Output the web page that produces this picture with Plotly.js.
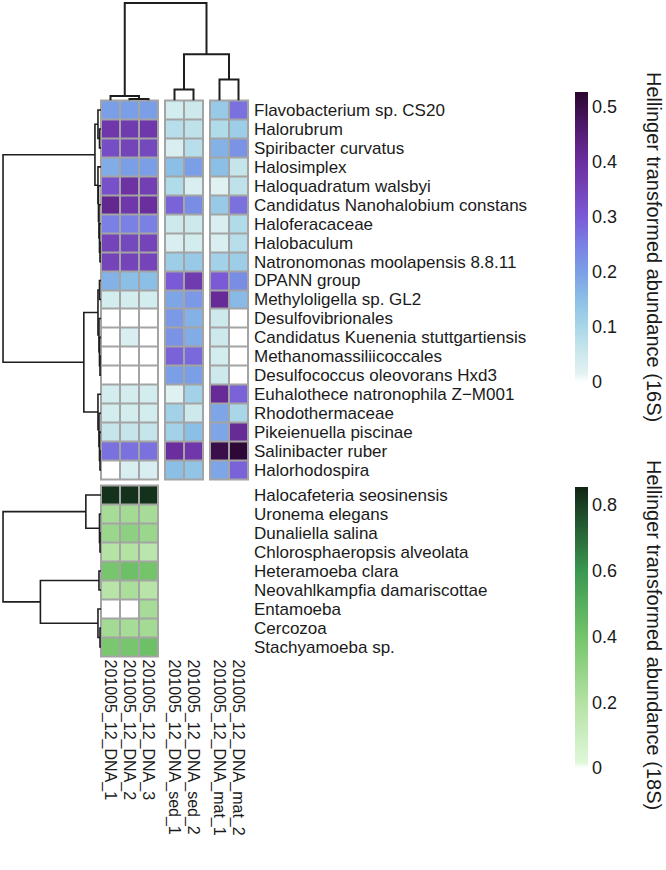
<!DOCTYPE html>
<html><head><meta charset="utf-8">
<script src="https://cdn.plot.ly/plotly-3.0.1.min.js"></script>
<style>html,body{margin:0;padding:0;background:#fff}#chart{width:666px;height:870px}</style>
</head><body><div id="chart"></div>
<script>
const W = 666, H = 870;

// ---------- DATA ----------
const colsDNA = ["201005_12_DNA_1", "201005_12_DNA_2", "201005_12_DNA_3"];
const colsSed = ["201005_12_DNA_sed_1", "201005_12_DNA_sed_2"];
const colsMat = ["201005_12_DNA_mat_1", "201005_12_DNA_mat_2"];

const taxa16S = ["Flavobacterium sp. CS20", "Halorubrum", "Spiribacter curvatus", "Halosimplex",
  "Haloquadratum walsbyi", "Candidatus Nanohalobium constans", "Haloferacaceae", "Halobaculum",
  "Natronomonas moolapensis 8.8.11", "DPANN group", "Methyloligella sp. GL2", "Desulfovibrionales",
  "Candidatus Kuenenia stuttgartiensis", "Methanomassiliicoccales", "Desulfococcus oleovorans Hxd3",
  "Euhalothece natronophila Z\u2212M001", "Rhodothermaceae", "Pikeienuella piscinae", "Salinibacter ruber",
  "Halorhodospira"];

const dna16S = [[0.20,0.20,0.20],[0.38,0.37,0.38],[0.33,0.35,0.34],[0.18,0.20,0.20],[0.32,0.39,0.36],
  [0.42,0.38,0.40],[0.25,0.25,0.25],[0.35,0.34,0.35],[0.35,0.35,0.35],[0.17,0.15,0.15],
  [0.04,0.04,0.04],[0,0,0],[0,0.03,0],[0,0,0],[0,0,0],
  [0.04,0.04,0.04],[0.04,0.04,0.04],[0.06,0.06,0.06],[0.27,0.27,0.27],[0,0.03,0.03]];
const sed16S = [[0.04,0.05],[0.08,0.07],[0.03,0.08],[0.15,0.20],[0.09,0.03],
  [0.29,0.23],[0.05,0.05],[0.03,0.04],[0.12,0.13],[0.30,0.37],
  [0.19,0.21],[0.21,0.17],[0.22,0.18],[0.29,0.28],[0.20,0.20],
  [0.02,0.11],[0.11,0.05],[0.11,0.15],[0.40,0.38],[0.15,0.14]];
const mat16S = [[0.13,0.27],[0.09,0.12],[0.17,0.22],[0.15,0.06],[0.02,0.07],
  [0.13,0.27],[0.03,0.09],[0.03,0.08],[0.11,0.12],[0.30,0.23],
  [0.41,0.16],[0.05,0],[0.05,0],[0.04,0],[0.05,0],
  [0.41,0.29],[0.19,0.10],[0.19,0.41],[0.50,0.52],[0.19,0.29]];

const taxa18S = ["Halocafeteria seosinensis", "Uronema elegans", "Dunaliella salina",
  "Chlorosphaeropsis alveolata", "Heteramoeba clara", "Neovahlkampfia damariscottae",
  "Entamoeba", "Cercozoa", "Stachyamoeba sp."];
const dna18S = [[0.83,0.83,0.83],[0.24,0.25,0.24],[0.28,0.32,0.28],[0.19,0.20,0.17],[0.39,0.42,0.40],
  [0.18,0.23,0.18],[0,0,0.24],[0.25,0.24,0.25],[0.38,0.39,0.42]];

// dendrogram linkages: [childA, childB, height]; index n+i is the i-th merge
const colLinkage = [[1,2,1.5],[0,7,4.5],[3,4,11],[5,6,21],[9,10,46],[8,11,97]];
const row16Linkage = [[1,2,1.5],[0,20,3],[7,8,1],[6,22,1.5],[5,23,2],[4,24,2.5],[3,25,3],[21,26,6],
  [9,10,1.5],[13,14,1],[12,29,1.5],[11,30,2],[28,31,3],
  [18,19,1],[17,33,1.5],[16,34,2],[15,35,3],[32,36,17],[27,37,97]];
const row18Linkage = [[2,3,1],[1,9,1.5],[0,10,15],[4,5,2],[7,8,1],[6,13,3],[12,14,60],[11,15,97]];

const cbTicks16 = [0, 0.1, 0.2, 0.3, 0.4, 0.5];
const cbTicks18 = [0, 0.2, 0.4, 0.6, 0.8];
const title16 = "Hellinger transformed abundance (16S)";
const title18 = "Hellinger transformed abundance (18S)";

// ---------- LAYOUT GEOMETRY (pixels) ----------
const groups = [{x0:101, x1:158, n:3}, {x0:165, x1:203, n:2}, {x0:210, x1:248, n:2}];
const top16 = {y0:100.5, y1:479.5};
const bot18 = {y0:485.5, y1:656.5};
const px = v => v / W, py = v => 1 - v / H;

const font = "Liberation Sans, Arial, Helvetica, sans-serif";
const txt = "#1a1a1a";
const grey = "#a4a4a4";

const cs16 = [[0,"#ffffff"],[0.03,"#e2f2f2"],[0.095,"#cde9ec"],[0.19,"#a9d7e8"],[0.285,"#8cbfe6"],
  [0.38,"#7b9fe6"],[0.475,"#7a80e4"],[0.57,"#7a5ad6"],[0.665,"#7444b8"],[0.76,"#6b2e9e"],
  [0.855,"#561e78"],[1,"#2a0630"]];
const cs18 = [[0,"#ffffff"],[0.02,"#dff7d8"],[0.234,"#b3e2a3"],[0.468,"#74c46a"],[0.70,"#3a9850"],
  [0.936,"#1a4024"],[1,"#0f2414"]];

function dendro(linkage, leafPos) {
  const pos = leafPos.slice(), hg = leafPos.map(() => 0);
  const p = [], h = [];
  linkage.forEach(([a, b, ht]) => {
    p.push(pos[a], pos[a], pos[b], pos[b], null);
    h.push(hg[a], ht, ht, hg[b], null);
    pos.push((pos[a] + pos[b]) / 2); hg.push(ht);
  });
  return {p, h};
}

const colCenters = [];
groups.forEach(g => { for (let i = 0; i < g.n; i++) colCenters.push(g.x0 + (g.x1 - g.x0) * (i + 0.5) / g.n); });
const rowCenters16 = taxa16S.map((_, k) => top16.y0 + (k + 0.5) * (top16.y1 - top16.y0) / taxa16S.length);
const rowCenters18 = taxa18S.map((_, k) => bot18.y0 + (k + 0.5) * (bot18.y1 - bot18.y0) / taxa18S.length);

const dCol = dendro(colLinkage, colCenters);
const dRow16 = dendro(row16Linkage, rowCenters16);
const dRow18 = dendro(row18Linkage, rowCenters18);

const hm = (z, x, y, xa, ya, ca) => ({type:"heatmap", z, x, y, xaxis:xa, yaxis:ya, coloraxis:ca,
  xgap:2, ygap:2, hoverongaps:false});
const lineStyle = {color:"#1e1e1e", width:2};

const data = [
  hm(dna16S, colsDNA, taxa16S, "x", "y", "coloraxis"),
  hm(sed16S, colsSed, taxa16S, "x2", "y", "coloraxis"),
  hm(mat16S, colsMat, taxa16S, "x3", "y", "coloraxis"),
  hm(dna18S, colsDNA, taxa18S, "x4", "y2", "coloraxis2"),
  {type:"scatter", mode:"lines", x:dCol.p, y:dCol.h, xaxis:"x5", yaxis:"y5", line:lineStyle, cliponaxis:false, hoverinfo:"skip"},
  {type:"scatter", mode:"lines", x:dRow16.h, y:dRow16.p, xaxis:"x6", yaxis:"y6", line:{color:"#1e1e1e", width:1.6}, cliponaxis:false, hoverinfo:"skip"},
  {type:"scatter", mode:"lines", x:dRow18.h, y:dRow18.p, xaxis:"x6", yaxis:"y6", line:{color:"#1e1e1e", width:1.6}, cliponaxis:false, hoverinfo:"skip"}
];

const colTick = {family:font, size:16, color:txt};
const rowTick = {family:font, size:17, color:txt};
const hidden = {visible:false, fixedrange:true};
const xg = (g, cats, extra) => Object.assign({domain:[px(g.x0), px(g.x1)], showgrid:false, zeroline:false,
  ticks:"", tickangle:90, tickfont:colTick, fixedrange:true, tickmode:"array", tickvals:cats, ticktext:cats,
  ticklabelstandoff:2}, extra);
const yg = (cats, extra) => Object.assign({side:"right", autorange:"reversed", showgrid:false, zeroline:false,
  ticks:"", tickfont:rowTick, fixedrange:true, tickmode:"array", tickvals:cats, ticktext:cats,
  ticklabelstandoff:5}, extra);

const shapes = [];
groups.forEach(g => shapes.push({type:"rect", xref:"paper", yref:"paper", layer:"below",
  x0:px(g.x0 - 1), x1:px(g.x1 + 1), y0:py(top16.y1 + 1), y1:py(top16.y0 - 1), fillcolor:grey, line:{width:0}}));
shapes.push({type:"rect", xref:"paper", yref:"paper", layer:"below",
  x0:px(groups[0].x0 - 1), x1:px(groups[0].x1 + 1), y0:py(bot18.y1 + 1), y1:py(bot18.y0 - 1), fillcolor:grey, line:{width:0}});

const cbBase = {xref:"paper", xanchor:"left", xpad:0, ypad:0, thickness:13, thicknessmode:"pixels",
  lenmode:"pixels", yref:"paper", yanchor:"bottom", outlinewidth:0, ticks:"",
  tickfont:{family:font, size:18, color:txt}};

const layout = {
  width:W, height:H, autosize:false, margin:{l:0, r:0, t:0, b:0, pad:0},
  paper_bgcolor:"#ffffff", plot_bgcolor:"rgba(0,0,0,0)", showlegend:false,
  xaxis: xg(groups[0], colsDNA, {anchor:"y", showticklabels:false}),
  xaxis2: xg(groups[1], colsSed, {anchor:"free", position:py(bot18.y1), showticklabels:true}),
  xaxis3: xg(groups[2], colsMat, {anchor:"free", position:py(bot18.y1), showticklabels:true}),
  xaxis4: xg(groups[0], colsDNA, {anchor:"y2", showticklabels:true}),
  yaxis: yg(taxa16S, {domain:[py(top16.y1), py(top16.y0)], anchor:"x3"}),
  yaxis2: yg(taxa18S, {domain:[py(bot18.y1), py(bot18.y0)], anchor:"free", position:px(groups[2].x1)}),
  xaxis5: Object.assign({domain:[0,1], range:[0, W], anchor:"y5"}, hidden),
  yaxis5: Object.assign({domain:[py(top16.y0), 1], range:[0, 100], anchor:"x5"}, hidden),
  xaxis6: Object.assign({domain:[0, px(groups[0].x0)], range:[100, 0], anchor:"y6"}, hidden),
  yaxis6: Object.assign({domain:[0,1], range:[H, 0], anchor:"x6"}, hidden),
  coloraxis: {cmin:0, cmax:0.527, colorscale:cs16,
    colorbar:Object.assign({}, cbBase, {x:px(575), y:py(382), len:290, tickvals:cbTicks16, ticktext:cbTicks16.map(String)})},
  coloraxis2: {cmin:0, cmax:0.855, colorscale:cs18,
    colorbar:Object.assign({}, cbBase, {x:px(575), y:py(768), len:281, tickvals:cbTicks18, ticktext:cbTicks18.map(String)})},
  shapes,
  annotations: [
    {text:title16, xref:"paper", yref:"paper", x:px(654), y:py(247), textangle:90, showarrow:false,
      xanchor:"center", yanchor:"middle", font:{family:font, size:20, color:txt}},
    {text:title18, xref:"paper", yref:"paper", x:px(654), y:py(635), textangle:90, showarrow:false,
      xanchor:"center", yanchor:"middle", font:{family:font, size:20, color:txt}}
  ]
};

Plotly.newPlot("chart", data, layout, {staticPlot:true, displayModeBar:false});
</script></body></html>
